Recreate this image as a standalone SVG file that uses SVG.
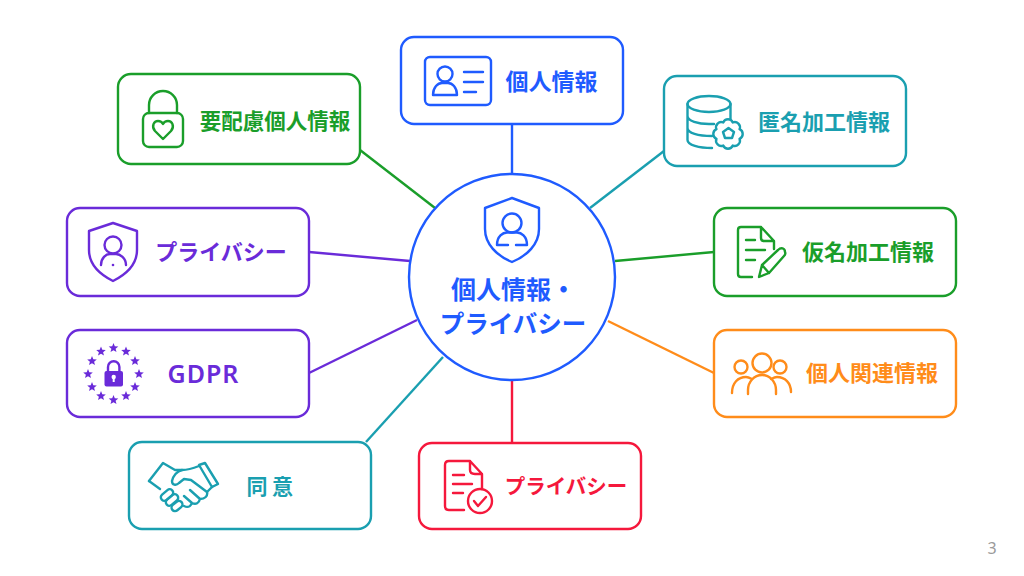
<svg xmlns="http://www.w3.org/2000/svg" xmlns:xlink="http://www.w3.org/1999/xlink" width="1024" height="576" viewBox="0 0 1024 576">
<style>
text{font-family:"Noto Sans CJK JP","Noto Sans",sans-serif;font-weight:700;text-anchor:middle}
.box{fill:#fff;stroke-width:2.4}
.ic{fill:none;stroke-width:2.4;stroke-linecap:round;stroke-linejoin:round}
.con{fill:none;stroke-width:2.4}
.lb{font-size:22px}
.blue{stroke:#1f5bff}.tblue{fill:#1f5bff}
.teal{stroke:#1a9fb0}.tteal{fill:#1a9fb0}
.green{stroke:#1a9e2a}.tgreen{fill:#1a9e2a}
.purple{stroke:#6a2bd9}.tpurple{fill:#6a2bd9}
.orange{stroke:#ff8c1a}.torange{fill:#ff8c1a}
.red{stroke:#f5183c}.tred{fill:#f5183c}
</style>
<defs>
<polygon id="star" points="0,-5 1.300,-1.700 4.800,-1.500 2.100,0.700 3,4.100 0,2.200 -3,4.100 -2.100,0.700 -4.800,-1.500 -1.300,-1.700" fill="#6a2bd9"/>
</defs>
<rect width="1024" height="576" fill="#fff"/>
<g id="connectors">
<line class="con blue" x1="512" y1="124" x2="512" y2="174"/>
<line class="con teal" x1="664" y1="151" x2="590" y2="208"/>
<line class="con green" x1="360" y1="150" x2="435" y2="208"/>
<line class="con purple" x1="309" y1="252" x2="410" y2="261"/>
<line class="con purple" x1="309" y1="373" x2="417" y2="320"/>
<line class="con teal" x1="366" y1="442" x2="443" y2="357"/>
<line class="con red" x1="512" y1="380" x2="512" y2="443"/>
<line class="con green" x1="714" y1="252" x2="615" y2="261"/>
<line class="con orange" x1="714" y1="373" x2="608" y2="321"/>
</g>
<g id="node-center">
<circle cx="512" cy="277" r="103" class="box blue"/>
<path class="ic blue" d="M512 198L539 208V229C539 244 527 256 512 262C497 256 485 244 485 229V208Z"/>
<circle class="ic blue" cx="512" cy="223" r="9.500"/>
<path class="ic blue" d="M508 245H497C497 236 503 232.500 507 232.500H517C521 232.500 527 236 527 245H516"/>
<text class="tblue" x="513.500" y="299" font-size="25">個人情報・</text>
<text class="tblue" x="513" y="333" font-size="24.500">プライバシー</text>
</g>
<g id="node-kojin">
<rect class="box blue" x="401" y="37" width="222" height="87" rx="13"/>
<rect class="ic blue" x="425" y="57" width="66" height="48" rx="5"/>
<circle class="ic blue" cx="445" cy="74" r="7.500"/>
<path class="ic blue" d="M433 95C433 87 438 83 442 83H448C452 83 457 87 457 95Z"/>
<path class="ic blue" d="M464 72H483M464 82H483M464 92H476"/>
<text class="tblue" x="551.500" y="90" font-size="23">個人情報</text>
</g>
<g id="node-tokumei">
<rect class="box teal" x="664" y="76" width="242" height="90" rx="13"/>
<ellipse class="ic teal" cx="709" cy="104" rx="21.500" ry="8"/>
<path class="ic teal" d="M687.500 104V140C687.500 145 699 148 712 148M730.500 104V119M687.500 116C687.500 121 698 124 709 124H714M687.500 128C687.500 133 698 136 712 136"/>
<path class="ic teal" d="M739.550 129.220A5.200 5.200 0 0 1 739.550 138.780A5.200 5.200 0 0 1 732.780 145.550A5.200 5.200 0 0 1 723.220 145.550A5.200 5.200 0 0 1 716.450 138.780A5.200 5.200 0 0 1 716.450 129.220A5.200 5.200 0 0 1 723.220 122.450A5.200 5.200 0 0 1 732.780 122.450A5.200 5.200 0 0 1 739.550 129.220Z"/>
<path class="ic teal" d="M728.500 128L734 132L732 138H725L723 132Z"/>
<text class="lb tteal" x="824" y="130">匿名加工情報</text>
</g>
<g id="node-yohairyo">
<rect class="box green" x="118" y="74" width="242" height="90" rx="13"/>
<path class="ic green" d="M149 113V105A14 14 0 0 1 177 105V113"/>
<rect class="ic green" x="143" y="113" width="40" height="34" rx="6"/>
<path class="ic green" d="M163 139L155 131C151 126 154 121 158 121C160 121 162 122 163 124C164 122 166 121 168 121C172 121 175 126 171 131Z"/>
<text class="tgreen" x="275" y="129" font-size="21.500">要配慮個人情報</text>
</g>
<g id="node-privacy-purple">
<rect class="box purple" x="67" y="208" width="242" height="88" rx="13"/>
<path class="ic purple" d="M113 223L137 231V250C137 265 125 275 113 281C101 275 89 265 89 250V231Z"/>
<circle class="ic purple" cx="113" cy="245" r="8.500"/>
<path class="ic purple" d="M101 265C101 258 106 254 110 254H116C120 254 126 258 126 265"/>
<circle cx="113" cy="265" r="1.300" fill="#6a2bd9"/>
<text class="lb tpurple" x="221" y="260">プライバシー</text>
</g>
<g id="node-gdpr">
<rect class="box purple" x="67" y="330" width="242" height="87" rx="13"/>
<use xlink:href="#star" x="113.500" y="348"/>
<use xlink:href="#star" x="126" y="351.500"/>
<use xlink:href="#star" x="135" y="361"/>
<use xlink:href="#star" x="139" y="374"/>
<use xlink:href="#star" x="135" y="387"/>
<use xlink:href="#star" x="126" y="396"/>
<use xlink:href="#star" x="113.500" y="400"/>
<use xlink:href="#star" x="101" y="396"/>
<use xlink:href="#star" x="92" y="387"/>
<use xlink:href="#star" x="88" y="374"/>
<use xlink:href="#star" x="92" y="361"/>
<use xlink:href="#star" x="101" y="351.500"/>
<path class="ic purple" d="M108 372V367A5.700 5.700 0 0 1 119.400 367V372"/>
<rect x="104.500" y="371" width="18.500" height="15.500" rx="2" fill="#6a2bd9"/>
<circle cx="113.700" cy="377" r="2.200" fill="#fff"/>
<rect x="112.700" y="377" width="2" height="5" fill="#fff"/>
<text class="tpurple" x="203.500" y="383" font-size="25" letter-spacing="1" style="font-family:'Noto Sans',sans-serif;font-weight:600">GDPR</text>
</g>
<g id="node-doi">
<rect class="box teal" x="129" y="442" width="242" height="87" rx="13"/>
<path class="ic teal" d="M199 465L205 463L218 484L212 487Z"/>
<path class="ic teal" d="M149 481L163 463L175 470H182C188 470 194 468 199 466"/>
<path class="ic teal" d="M149 481L160 489"/>
<path class="ic teal" d="M182 470C177 471 173 476 172 481C172 485 176 486 179 483L184 479L191 480L207 492C208 496 205 499 200 499M190 490L200 499C199 503 196 505 192 503L184 496M192 503C190 507 188 508 184 506"/>
<path class="ic teal" d="M212 487L207 492"/>
<rect class="ic teal" x="160" y="491.500" width="14" height="7" rx="3.500" transform="rotate(-40 167 495)"/>
<rect class="ic teal" x="165" y="496.500" width="14" height="7" rx="3.500" transform="rotate(-40 172 500)"/>
<rect class="ic teal" x="171" y="502.500" width="12" height="7" rx="3.500" transform="rotate(-40 177 506)"/>
<text class="tteal" x="272" y="494" font-size="21" style="letter-spacing:4.500px">同意</text>
</g>
<g id="node-privacy-red">
<rect class="box red" x="419" y="443" width="222" height="86" rx="13"/>
<path class="ic red" d="M464 510H449C446 510 445 509 445 506V465C445 462 446 461 449 461H470L482 474V489M470 461V470C470 473 472 474 475 474H482"/>
<path class="ic red" d="M453 475H464M453 484H472M453 493H463"/>
<circle class="ic red" cx="480" cy="501" r="12"/>
<path class="ic red" d="M474 501L478 506L486 497"/>
<text class="tred" x="566" y="494" font-size="20.500">プライバシー</text>
</g>
<g id="node-kamei">
<rect class="box green" x="714" y="208" width="242" height="88" rx="13"/>
<path class="ic green" d="M752 277H741C739 277 738 276 738 274V230C738 228 739 227 741 227H761L774 241V249M761 227V238C761 240 762 241 764 241H774"/>
<path class="ic green" d="M746 240H755M746 250H765M746 260H755"/>
<path class="ic green" d="M759 277L762 265L778 250C781 247 785 248 785 252C786 254 785 255 784 256L769 273ZM762 265L769 273"/>
<text class="lb tgreen" x="868" y="260">仮名加工情報</text>
</g>
<g id="node-kanren">
<rect class="box orange" x="714" y="330" width="242" height="87" rx="13"/>
<circle class="ic orange" cx="741" cy="367" r="6.500"/>
<circle class="ic orange" cx="762" cy="363" r="9.500"/>
<circle class="ic orange" cx="780" cy="367" r="6.500"/>
<path class="ic orange" d="M732 393C732 383 738 377 746 377C748 377 750 378 752 379"/>
<path class="ic orange" d="M748 394V390C748 382 754 375 762 375C770 375 776 382 776 390V394"/>
<path class="ic orange" d="M771 379C773 378 775 377 777 377C785 377 791 383 791 392"/>
<text class="lb torange" x="872" y="381">個人関連情報</text>
</g>
<text id="page" x="992" y="554" font-size="16" fill="#9a9a9a" style="font-family:'Noto Sans',sans-serif;font-weight:400">3</text>
</svg>
